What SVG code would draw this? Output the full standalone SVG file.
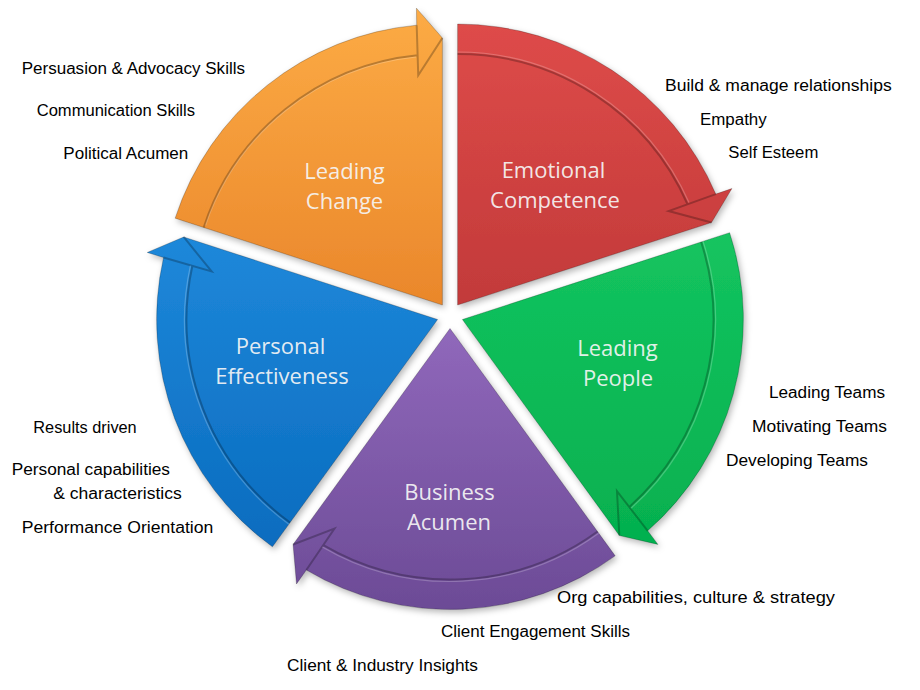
<svg xmlns="http://www.w3.org/2000/svg" width="920" height="690" viewBox="0 0 920 690">
<defs>
  <linearGradient id="gOrange" x1="0" y1="0" x2="0" y2="1"><stop offset="0" stop-color="#fcab45"/><stop offset="1" stop-color="#ea872b"/></linearGradient>
  <linearGradient id="gRed" x1="0" y1="0" x2="0" y2="1"><stop offset="0" stop-color="#de4b49"/><stop offset="1" stop-color="#c23a3a"/></linearGradient>
  <linearGradient id="gGreen" x1="0" y1="0" x2="0" y2="1"><stop offset="0" stop-color="#14c45f"/><stop offset="1" stop-color="#05b04f"/></linearGradient>
  <linearGradient id="gPurple" x1="0" y1="0" x2="0" y2="1"><stop offset="0" stop-color="#9068bb"/><stop offset="1" stop-color="#6c4b96"/></linearGradient>
  <linearGradient id="gBlue" x1="0" y1="0" x2="0" y2="1"><stop offset="0" stop-color="#1e88da"/><stop offset="1" stop-color="#0a6cbf"/></linearGradient>
  <filter id="shadow" x="-10%" y="-10%" width="120%" height="120%">
    <feDropShadow dx="2" dy="3" stdDeviation="3" flood-color="#000" flood-opacity="0.28"/>
  </filter>
  <style>
    .seg { stroke: rgba(0,0,0,0.22); stroke-width: 1; filter: url(#shadow); }
    .bevel { fill: none; stroke: rgba(0,0,0,0.25); stroke-width: 2; }
    .hl { fill: none; stroke: rgba(255,255,255,0.22); stroke-width: 1.2; }
    .title { font-family: "Open Sans", "Noto Sans", sans-serif; font-size: 22px; fill: #f6f6f6; fill-opacity: 0.93; text-anchor: middle; }
    .item { font-family: "Liberation Sans", "DejaVu Sans", sans-serif; font-size: 16px; fill: #000; }
  </style>
</defs>
<rect width="920" height="690" fill="#ffffff"/>

<g id="leading-change">
  <path class="seg" fill="url(#gOrange)" d="M442.4,305 L175.15,218.17 A281,281 0 0 1 416.69,25.18 L416.43,8.14 L442.4,38 Z"/>
  <path class="bevel" d="M203.68,227.44 A251,251 0 0 1 417.47,55.24 M416.69,25.18 L418.25,75.27 L442.4,38"/>
  <path class="hl" d="M205.5,225.5 A249,249 0 0 1 416,57"/>
  <text class="title" x="344.5" y="178.5">Leading</text>
  <text class="title" x="344.5" y="208.5">Change</text>
  <text class="item" x="21.7" y="74.3" textLength="223.3" lengthAdjust="spacingAndGlyphs">Persuasion &amp; Advocacy Skills</text>
  <text class="item" x="36.7" y="116" textLength="158.3" lengthAdjust="spacingAndGlyphs">Communication Skills</text>
  <text class="item" x="63.3" y="159" textLength="125" lengthAdjust="spacingAndGlyphs">Political Acumen</text>
</g>

<g id="emotional-competence">
  <path class="seg" fill="url(#gRed)" d="M457.6,305 L457.6,24 A281,281 0 0 1 715.78,194.08 L731.91,188.56 L711.53,222.49 Z"/>
  <path class="bevel" d="M457.6,54 A251,251 0 0 1 687.43,204.11 M715.78,194.08 L668.63,211.04 L711.53,222.49"/>
  <path class="hl" d="M457.6,52 A253,253 0 0 1 689,202.5"/>
  <text class="title" x="553.5" y="178">Emotional</text>
  <text class="title" x="555" y="208">Competence</text>
  <text class="item" x="665" y="90.5" textLength="226.7" lengthAdjust="spacingAndGlyphs">Build &amp; manage relationships</text>
  <text class="item" x="700" y="125" textLength="66.7" lengthAdjust="spacingAndGlyphs">Empathy</text>
  <text class="item" x="728.3" y="158.3" textLength="90" lengthAdjust="spacingAndGlyphs">Self Esteem</text>
</g>

<g id="leading-people">
  <path class="seg" fill="url(#gGreen)" d="M462.4,319.5 L729.65,232.67 A281,281 0 0 1 647.68,530.77 L657.91,544.4 L619.34,535.51 Z"/>
  <path class="bevel" d="M701.12,241.94 A251,251 0 0 1 629.38,506.91 M647.68,530.77 L616.97,491.17 L619.34,535.51"/>
  <path class="hl" d="M703,241.3 A253,253 0 0 1 631,508.3"/>
  <text class="title" x="617.5" y="356">Leading</text>
  <text class="title" x="618" y="386">People</text>
  <text class="item" x="769" y="397.5" textLength="116" lengthAdjust="spacingAndGlyphs">Leading Teams</text>
  <text class="item" x="752" y="432" textLength="135" lengthAdjust="spacingAndGlyphs">Motivating Teams</text>
  <text class="item" x="726" y="466" textLength="142" lengthAdjust="spacingAndGlyphs">Developing Teams</text>
</g>

<g id="business-acumen">
  <path class="seg" fill="url(#gPurple)" d="M450,328.5 L615.17,555.83 A281,281 0 0 1 306.33,569.99 L296.52,583.94 L293.06,544.51 Z"/>
  <path class="bevel" d="M597.54,531.56 A251,251 0 0 1 323.36,545.21 M306.33,569.99 L334.5,528.55 L293.06,544.51"/>
  <path class="hl" d="M598.7,533.2 A253,253 0 0 1 322.3,546.9"/>
  <text class="title" x="449.5" y="500">Business</text>
  <text class="title" x="449" y="530">Acumen</text>
  <text class="item" x="557" y="603" textLength="278" lengthAdjust="spacingAndGlyphs">Org capabilities, culture &amp; strategy</text>
  <text class="item" x="441" y="637" textLength="189" lengthAdjust="spacingAndGlyphs">Client Engagement Skills</text>
  <text class="item" x="287" y="671" textLength="191" lengthAdjust="spacingAndGlyphs">Client &amp; Industry Insights</text>
</g>

<g id="personal-effectiveness">
  <path class="seg" fill="url(#gBlue)" d="M437.6,319.5 L272.43,546.83 A281,281 0 0 1 163.53,257.48 L147.24,252.46 L183.67,236.99 Z"/>
  <path class="bevel" d="M290.06,522.56 A251,251 0 0 1 192.36,266.03 M163.53,257.48 L211.65,271.47 L183.67,236.99"/>
  <path class="hl" d="M288.9,524.2 A253,253 0 0 1 190.4,265.6"/>
  <text class="title" x="280.5" y="354">Personal</text>
  <text class="title" x="282" y="384">Effectiveness</text>
  <text class="item" x="33.3" y="433.3" textLength="103.4" lengthAdjust="spacingAndGlyphs">Results driven</text>
  <text class="item" x="11.7" y="475" textLength="158.3" lengthAdjust="spacingAndGlyphs">Personal capabilities</text>
  <text class="item" x="53.3" y="499.3" textLength="128.4" lengthAdjust="spacingAndGlyphs">&amp; characteristics</text>
  <text class="item" x="21.7" y="533.3" textLength="191.6" lengthAdjust="spacingAndGlyphs">Performance Orientation</text>
</g>
</svg>
